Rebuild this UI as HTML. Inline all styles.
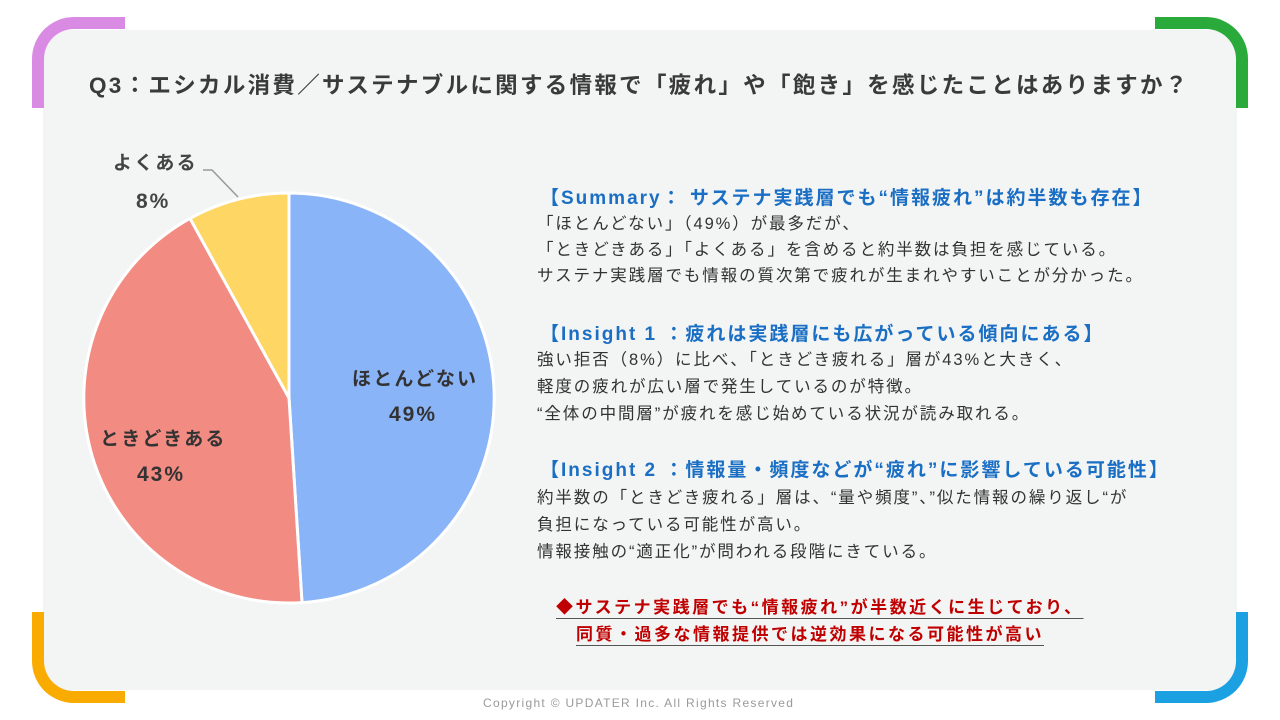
<!DOCTYPE html>
<html><head><meta charset="utf-8"><style>
body{margin:0;width:1280px;height:720px;background:#fff;position:relative;overflow:hidden;font-family:"Liberation Sans","Noto Sans CJK JP",sans-serif;color:#333}
.panel{position:absolute;left:43px;top:30px;width:1194px;height:660px;background:#f3f4f4}
.c{position:absolute;width:80px;height:80px;border:0 solid}
.t{position:absolute;white-space:nowrap}
.h{color:#1a6fc4;font-weight:bold;font-size:19px;letter-spacing:2px}
.b{font-size:16.5px;color:#333;letter-spacing:1.9px}
.r{color:#c00000;font-weight:bold;font-size:17px;letter-spacing:2.5px;text-decoration:underline;text-decoration-color:#555;text-underline-offset:5px}
.p{font-size:19px;font-weight:bold;color:#333;letter-spacing:2.2px}
.n{font-size:21px;font-weight:bold;color:#333;letter-spacing:2px}
</style></head><body>
<div class="panel"></div>
<div class="c" style="left:32px;top:17px;border-left:12px solid #d98be3;border-top:12px solid #d98be3;border-top-left-radius:42px;width:81px;height:79px"></div>
<div class="c" style="right:32px;top:17px;border-right:12px solid #2aaa3a;border-top:12px solid #2aaa3a;border-top-right-radius:42px;width:81px;height:79px"></div>
<div class="c" style="left:32px;bottom:17px;border-left:12px solid #f9ab00;border-bottom:12px solid #f9ab00;border-bottom-left-radius:42px;width:81px;height:79px"></div>
<div class="c" style="right:32px;bottom:17px;border-right:12px solid #1ba1e2;border-bottom:12px solid #1ba1e2;border-bottom-right-radius:42px;width:81px;height:79px"></div>
<div class="t" style="left:89px;top:68px;font-size:22.5px;font-weight:bold;color:#3a3a3a;letter-spacing:2.3px">Q3：エシカル消費／サステナブルに関する情報で「疲れ」や「飽き」を感じたことはありますか？</div>
<svg style="position:absolute;left:0;top:0" width="1280" height="720">
<path d="M289,398 L289,193 A205,205 0 0 1 302,602.6 Z" fill="#8ab4f8" stroke="#fff" stroke-width="3"/>
<path d="M289,398 L302,602.6 A205,205 0 0 1 190,218.4 Z" fill="#f28b82" stroke="#fff" stroke-width="3"/>
<path d="M289,398 L190,218.4 A205,205 0 0 1 289,193 Z" fill="#fdd663" stroke="#fff" stroke-width="3"/>
<polyline points="203,170 212,170 238,197" fill="none" stroke="#999" stroke-width="1.5"/>
</svg>
<div class="t p" style="left:113px;top:148px;color:#444">よくある</div>
<div class="t n" style="left:136px;top:190px;color:#444">8%</div>
<div class="t p" style="left:352px;top:364px">ほとんどない</div>
<div class="t n" style="left:389px;top:403px">49%</div>
<div class="t p" style="left:100px;top:424px">ときどきある</div>
<div class="t n" style="left:137px;top:463px">43%</div>
<div class="t h" style="left:540px;top:183px">【Summary： サステナ実践層でも“情報疲れ”は約半数も存在】</div>
<div class="t b" style="left:537px;top:210px">「ほとんどない」（49%）が最多だが、</div>
<div class="t b" style="left:537px;top:236px">「ときどきある」「よくある」を含めると約半数は負担を感じている。</div>
<div class="t b" style="left:537px;top:262px">サステナ実践層でも情報の質次第で疲れが生まれやすいことが分かった。</div>
<div class="t h" style="left:540px;top:319px">【Insight 1 ：疲れは実践層にも広がっている傾向にある】</div>
<div class="t b" style="left:537px;top:346px">強い拒否（8%）に比べ、「ときどき疲れる」層が43%と大きく、</div>
<div class="t b" style="left:537px;top:373px">軽度の疲れが広い層で発生しているのが特徴。</div>
<div class="t b" style="left:537px;top:400px">“全体の中間層”が疲れを感じ始めている状況が読み取れる。</div>
<div class="t h" style="left:540px;top:455px">【Insight 2 ：情報量・頻度などが“疲れ”に影響している可能性】</div>
<div class="t b" style="left:537px;top:484px">約半数の「ときどき疲れる」層は、“量や頻度”、”似た情報の繰り返し“が</div>
<div class="t b" style="left:537px;top:511px">負担になっている可能性が高い。</div>
<div class="t b" style="left:537px;top:538px">情報接触の“適正化”が問われる段階にきている。</div>
<div class="t r" style="left:556px;top:593px">◆サステナ実践層でも“情報疲れ”が半数近くに生じており、</div>
<div class="t r" style="left:576px;top:620px">同質・過多な情報提供では逆効果になる可能性が高い</div>
<div class="t" style="left:483px;top:696px;font-size:12px;color:#9a9a9a;letter-spacing:1.3px">Copyright © UPDATER Inc. All Rights Reserved</div>
</body></html>
